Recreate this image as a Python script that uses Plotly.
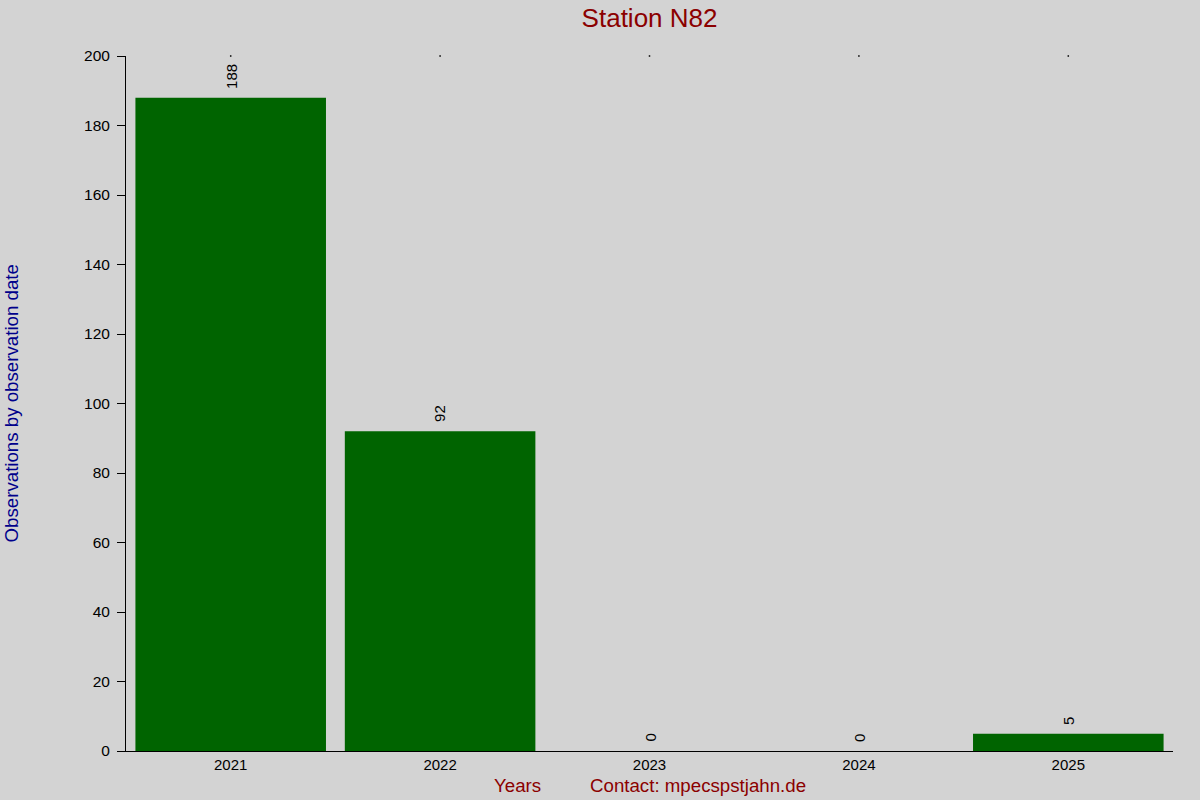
import plotly.graph_objects as go

years = ["2021", "2022", "2023", "2024", "2025"]
counts = [188, 92, 0, 0, 5]
y_ticks = [0, 20, 40, 60, 80, 100, 120, 140, 160, 180, 200]
y_max = 200

font_family = "Liberation Sans, Arial, sans-serif"

fig = go.Figure()
fig.add_trace(go.Bar(
    x=years, y=counts,
    marker=dict(color="#006400", line=dict(width=0)),
    showlegend=False, hoverinfo="skip",
))
# tiny top tick marks at each category
fig.add_trace(go.Scatter(
    x=years, y=[y_max] * len(years), mode="markers",
    marker=dict(size=1.5, color="#000000", symbol="square"),
    showlegend=False, hoverinfo="skip", cliponaxis=False,
))

annotations = []
for i, v in enumerate(counts):
    annotations.append(dict(
        x=i, y=v, xref="x", yref="y", text=str(v), textangle=-90,
        showarrow=False, xanchor="center", yanchor="bottom", yshift=7,
        font=dict(size=15, color="#000000"),
    ))

annotations += [
    dict(text="Years", xref="paper", yref="paper", x=(517 - 126) / 1047, y=-(786 - 751) / 695,
         xanchor="center", yanchor="middle", showarrow=False,
         font=dict(size=18.7, color="#8b0000")),
    dict(text="Contact: mpecspstjahn.de", xref="paper", yref="paper", x=(698 - 126) / 1047,
         y=-(786 - 751) / 695, xanchor="center", yanchor="middle", showarrow=False,
         font=dict(size=18.7, color="#8b0000")),
    dict(text="Observations by observation date", xref="paper", yref="paper",
         x=-(126 - 11) / 1047, y=0.5, xanchor="center", yanchor="middle", textangle=-90,
         showarrow=False, font=dict(size=18.7, color="#00008b")),
]

fig.update_layout(
    width=1200, height=800,
    paper_bgcolor="#d3d3d3", plot_bgcolor="#d3d3d3",
    margin=dict(l=126, r=27, t=56, b=49),
    bargap=0.09,
    hovermode=False,
    font=dict(family=font_family, size=15, color="#000000"),
    title=dict(text="Station N82", x=0.5413, xanchor="center", y=1 - 18 / 800, yanchor="middle",
               font=dict(size=26, color="#8b0000", family=font_family)),
    xaxis=dict(
        type="category", range=[-0.5, 4.5],
        showline=True, linecolor="#000000", linewidth=1,
        ticks="", showgrid=False, zeroline=False,
        tickfont=dict(size=15, color="#000000"),
    ),
    yaxis=dict(
        range=[0, y_max], tickvals=y_ticks,
        showline=True, linecolor="#000000", linewidth=1,
        ticks="outside", ticklen=8, tickcolor="#000000",
        ticklabelstandoff=4,
        showgrid=False, zeroline=False,
        tickfont=dict(size=15.5, color="#000000"),
    ),
    annotations=annotations,
)

fig.write_html(
    "out.html",
    config={"displayModeBar": False},
    post_script="document.body.style.margin='0';document.body.style.padding='0';document.body.style.overflow='hidden';",
)
